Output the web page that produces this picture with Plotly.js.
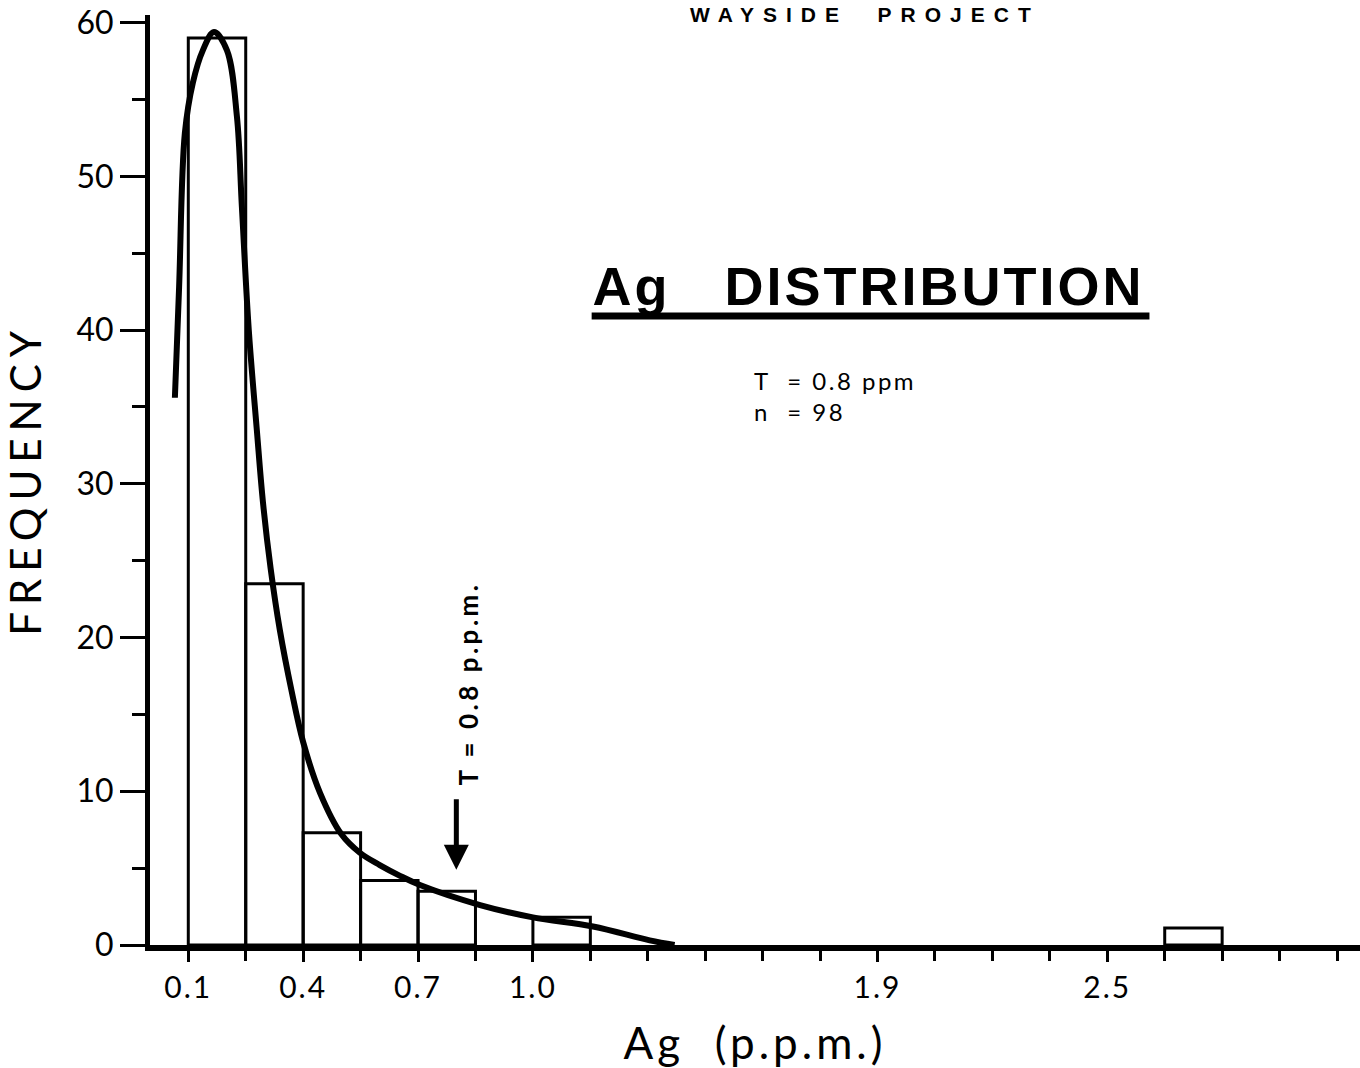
<!DOCTYPE html>
<html>
<head>
<meta charset="utf-8">
<script src="https://cdn.plot.ly/plotly-3.0.1.min.js"></script>
<style>
  html, body { margin: 0; padding: 0; background: #fff; }
  #chart { width: 1360px; height: 1068px; }
  .ytitle { letter-spacing: 7px; }
  .xtitle { letter-spacing: 4px; }
  .xtick text { letter-spacing: 2px; }
  g.annotation[data-index="0"] text { letter-spacing: 9px; }
  g.annotation[data-index="1"] text { letter-spacing: 3px; }
  g.annotation[data-index="2"] text { letter-spacing: 2.5px; }
  g.annotation[data-index="3"] text { letter-spacing: 3.5px; }
</style>
</head>
<body>
<div id="chart"></div>
<script>
// Histogram bins (Ag, p.p.m.) — left edge of each 0.15 ppm bin, and frequency (%)
const binStart = [0.1, 0.25, 0.4, 0.55, 0.7, 1.0, 2.65];
const binWidth = 0.15;
const frequency = [59, 23.5, 7.3, 4.2, 3.5, 1.8, 1.1];

// Hand-fitted distribution curve
const curveX = [0.065, 0.076, 0.091, 0.112, 0.138, 0.167, 0.201, 0.227, 0.24, 0.258, 0.279, 0.295, 0.315, 0.339, 0.37, 0.4, 0.444, 0.5, 0.548, 0.6, 0.653, 0.705, 0.862, 1.0, 1.157, 1.305, 1.37];
const curveY = [35.6, 42.8, 52.8, 56.1, 58.2, 59.4, 58.2, 53.9, 48.0, 40.0, 33.5, 28.8, 24.5, 20.5, 16.5, 13.2, 9.9, 7.2, 6.0, 5.2, 4.5, 3.9, 2.6, 1.8, 1.2, 0.3, 0];

// Axis ticks
const xTickVals = [0.1, 0.4, 0.7, 1.0, 1.9, 2.5];
const xTickText = ['0.1', '0.4', '0.7', '1.0', '1.9', '2.5'];
const yTickVals = [0, 10, 20, 30, 40, 50, 60];

// Threshold
const threshold = 0.8;
const thresholdArrowY = 4.9;
const sampleCount = 98;

const traces = [
  {
    type: 'bar',
    x: binStart,
    y: frequency,
    width: binWidth,
    offset: 0,
    marker: { color: 'rgba(0,0,0,0)', line: { color: '#000', width: 3 } },
    hoverinfo: 'skip'
  },
  {
    type: 'scatter',
    mode: 'lines',
    x: curveX,
    y: curveY,
    line: { color: '#000', width: 6, shape: 'spline', smoothing: 1 },
    hoverinfo: 'skip'
  }
];

const regular = 'Lato, "Open Sans", sans-serif';
const boldHelv = '"Liberation Sans", Arial, sans-serif';

const layout = {
  width: 1360,
  height: 1068,
  margin: { l: 150, r: 0, t: 15, b: 123 },
  paper_bgcolor: '#fff',
  plot_bgcolor: '#fff',
  showlegend: false,
  bargap: 0,
  xaxis: {
    range: [0, 3.16],
    showgrid: false,
    zeroline: false,
    showline: true,
    linecolor: '#000',
    linewidth: 6,
    ticks: 'outside',
    tickmode: 'array',
    tickvals: xTickVals,
    ticktext: xTickText,
    ticklen: 11,
    tickwidth: 3,
    tickcolor: '#000',
    minor: { tickmode: 'linear', tick0: 0.1, dtick: 0.15, ticks: 'outside', ticklen: 10, tickwidth: 3, tickcolor: '#000', showgrid: false },
    tickfont: { family: regular, size: 30, color: '#000' },
    ticklabelstandoff: 0,
    title: { text: 'Ag  (p.p.m.)', font: { family: regular, size: 44, color: '#000' }, standoff: 28 }
  },
  yaxis: {
    range: [0, 60.5],
    showgrid: false,
    zeroline: false,
    showline: true,
    linecolor: '#000',
    linewidth: 5,
    ticks: 'outside',
    tickmode: 'array',
    tickvals: yTickVals,
    ticklen: 25,
    tickwidth: 3,
    tickcolor: '#000',
    minor: { tickmode: 'linear', tick0: 5, dtick: 10, ticks: 'outside', ticklen: 13, tickwidth: 3, tickcolor: '#000', showgrid: false },
    tickfont: { family: regular, size: 32, color: '#000' },
    ticklabelstandoff: 0,
    title: { text: 'FREQUENCY', font: { family: regular, size: 42, color: '#000' }, standoff: 30 }
  },
  annotations: [
    {
      text: '<b>WAYSIDE  PROJECT</b>', xref: 'paper', yref: 'paper', x: 0.591, y: 1.001,
      xanchor: 'center', yanchor: 'middle', showarrow: false,
      font: { family: boldHelv, size: 21, color: '#000' }
    },
    {
      text: '<b>Ag   DISTRIBUTION</b>', xref: 'paper', yref: 'paper', x: 0.594, y: 0.7086,
      xanchor: 'center', yanchor: 'middle', showarrow: false,
      font: { family: boldHelv, size: 54, color: '#000' }
    },
    {
      text: 'T  = 0.8 ppm<br>n  = ' + sampleCount, xref: 'paper', yref: 'paper', x: 0.4975, y: 0.590,
      xanchor: 'left', yanchor: 'middle', align: 'left', showarrow: false,
      font: { family: regular, size: 24, color: '#000' }
    },
    {
      text: '<b>T = 0.8 p.p.m.</b>', xref: 'paper', yref: 'paper', x: 0.2628, y: 0.2817,
      xanchor: 'center', yanchor: 'middle', textangle: -90, showarrow: false,
      font: { family: regular, size: 26, color: '#000' }
    },
    {
      text: '', xref: 'x', yref: 'y', x: threshold, y: thresholdArrowY,
      axref: 'pixel', ayref: 'pixel', ax: 0, ay: -72,
      showarrow: true, arrowhead: 2, arrowsize: 1, arrowwidth: 5, arrowcolor: '#000', standoff: 0
    }
  ],
  shapes: [
    {
      type: 'line', xref: 'paper', yref: 'paper', x0: 0.365, x1: 0.826, y0: 0.6763, y1: 0.6763,
      line: { color: '#000', width: 7 }
    }
  ]
};

Plotly.newPlot('chart', traces, layout, { staticPlot: true, displayModeBar: false });
</script>
</body>
</html>
